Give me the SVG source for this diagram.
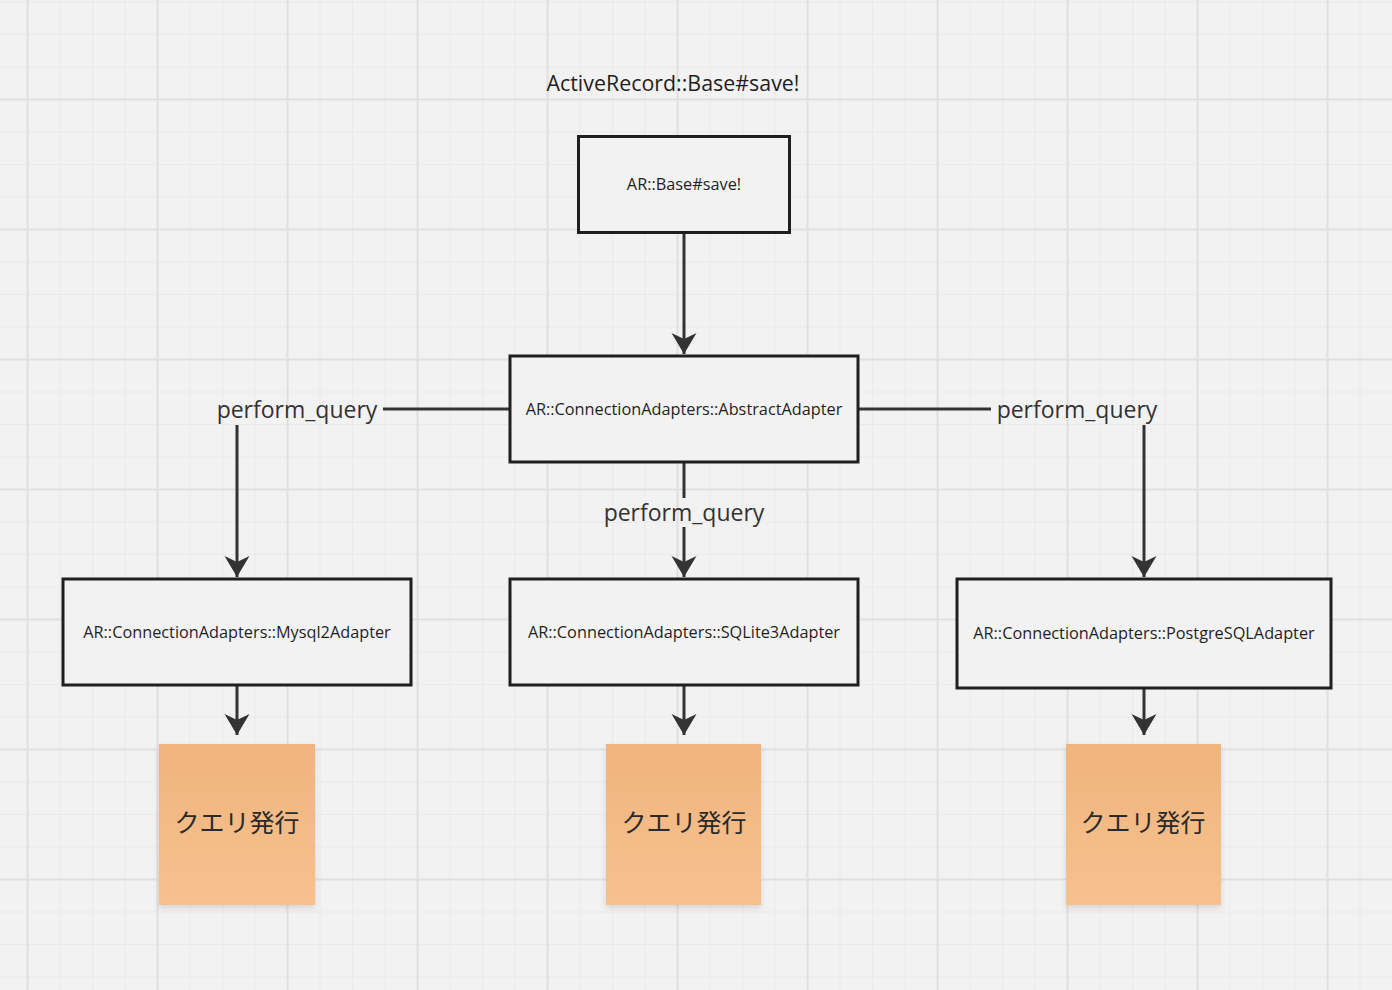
<svg xmlns="http://www.w3.org/2000/svg" width="1392" height="990" viewBox="0 0 1392 990">
<defs>
<pattern id="minor" x="27" y="34" width="32.5" height="32.5" patternUnits="userSpaceOnUse">
<path d="M0.5,0 V32.5 M0,0.5 H32.5" stroke="#eaeaea" stroke-width="1.2" fill="none"/>
</pattern>
<pattern id="major" x="26" y="98" width="130" height="130" patternUnits="userSpaceOnUse">
<path d="M1.5,0 V130 M0,1.5 H130" stroke="#e0e0e0" stroke-width="2" fill="none"/>
</pattern>
<marker id="arrow" markerUnits="userSpaceOnUse" markerWidth="30" markerHeight="30" viewBox="-24 -15 30 30" refX="0" refY="0" orient="auto">
<path d="M0,0 L-21,-12.5 L-15,0 L-21,12.5 Z" fill="#333"/>
</marker>
<linearGradient id="sticky" x1="0" y1="0" x2="0" y2="1">
<stop offset="0" stop-color="#f0b47d"/>
<stop offset="1" stop-color="#f6c18e"/>
</linearGradient>
<filter id="shadow" x="-10%" y="-10%" width="120%" height="125%">
<feDropShadow dx="0" dy="3" stdDeviation="3" flood-color="#000" flood-opacity="0.12"/>
</filter>
</defs>
<style>
.box{fill:#f2f2f2;stroke:#1f1f1f;stroke-width:3}
.btxt{font-family:"Open Sans","Noto Sans",sans-serif;font-size:16.3px;fill:#1f1f1f;text-anchor:middle;dominant-baseline:central}
.lbl{font-family:"Open Sans","Noto Sans",sans-serif;font-size:23px;fill:#333;text-anchor:middle;dominant-baseline:central}
.title{font-family:"Open Sans","Noto Sans",sans-serif;font-size:21.4px;fill:#1f1f1f;text-anchor:middle;dominant-baseline:central}
.conn{stroke:#333;stroke-width:3;fill:none}
.arr{marker-end:url(#arrow)}
.sticky{fill:url(#sticky);filter:url(#shadow)}
.jtxt{font-family:"Noto Sans CJK JP",sans-serif;font-size:25px;fill:#2a2a2a;text-anchor:middle;dominant-baseline:central}
</style>
<rect width="1392" height="990" fill="#f2f2f2"/>
<rect width="1392" height="990" fill="url(#minor)"/>
<rect width="1392" height="990" fill="url(#major)"/>

<text id="title" class="title" x="673" y="82">ActiveRecord::Base#save!</text>

<g id="connectors">
<path class="conn arr" d="M684,233 V354"/>
<path class="conn" d="M510,409 H383"/>
<text class="lbl" x="297" y="409">perform_query</text>
<path class="conn arr" d="M237,425 V577"/>
<path class="conn" d="M858,409 H991"/>
<text class="lbl" x="1077" y="409">perform_query</text>
<path class="conn arr" d="M1144,425 V577"/>
<path class="conn" d="M684,462 V498"/>
<text class="lbl" x="684" y="512">perform_query</text>
<path class="conn arr" d="M684,527 V577"/>
<path class="conn arr" d="M237,685 V735"/>
<path class="conn arr" d="M684,685 V735"/>
<path class="conn arr" d="M1144,688 V735"/>
</g>

<g id="base-save">
<rect class="box" x="578.5" y="136.5" width="211" height="96"/>
<text class="btxt" x="684" y="184">AR::Base#save!</text>
</g>
<g id="abstract-adapter">
<rect class="box" x="510" y="356" width="348" height="106"/>
<text class="btxt" x="684" y="409">AR::ConnectionAdapters::AbstractAdapter</text>
</g>
<g id="mysql2-adapter">
<rect class="box" x="63" y="579" width="348" height="106"/>
<text class="btxt" x="237" y="632">AR::ConnectionAdapters::Mysql2Adapter</text>
</g>
<g id="sqlite3-adapter">
<rect class="box" x="510" y="579" width="348" height="106"/>
<text class="btxt" x="684" y="632">AR::ConnectionAdapters::SQLite3Adapter</text>
</g>
<g id="postgresql-adapter">
<rect class="box" x="957" y="579" width="374" height="109"/>
<text class="btxt" x="1144" y="633">AR::ConnectionAdapters::PostgreSQLAdapter</text>
</g>
<g id="query-mysql">
<rect class="sticky" x="159" y="744" width="156" height="161"/>
<text class="jtxt" x="237" y="821">クエリ発行</text>
</g>
<g id="query-sqlite">
<rect class="sticky" x="606" y="744" width="155" height="161"/>
<text class="jtxt" x="684" y="821">クエリ発行</text>
</g>
<g id="query-postgresql">
<rect class="sticky" x="1066" y="744" width="155" height="161"/>
<text class="jtxt" x="1143" y="821">クエリ発行</text>
</g>
</svg>
